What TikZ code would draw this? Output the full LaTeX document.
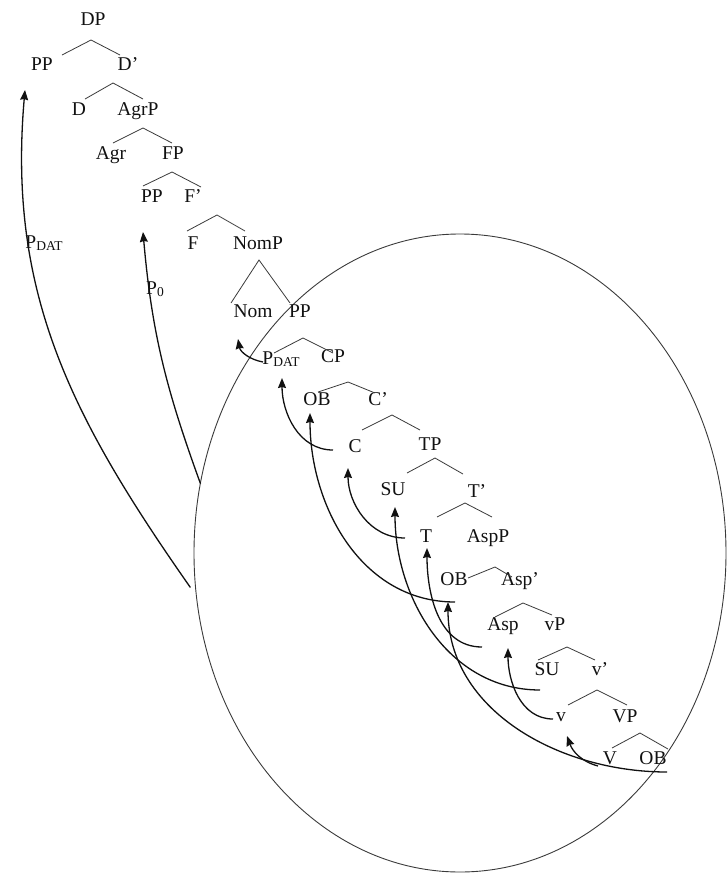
\documentclass[tikz,border=0pt]{standalone}
\usepackage{fontspec}
\setmainfont{Liberation Serif}
\usepackage{tikz}
\usetikzlibrary{arrows.meta,calc,shapes.geometric}
\definecolor{ink}  {HTML}{111111}
\definecolor{twig} {HTML}{3A3A3A}
\newcommand{\lowtag}[1]{\raisebox{-1.5pt}{\fontsize{13.5}{14}\selectfont #1}}
\tikzset{
  every node/.style={font=\fontsize{19.5}{22}\selectfont, inner sep=1pt},
  % --- nodes
  cat/.style  = {text=ink, text height=1.5ex, text depth=.25ex},
  ring/.style = {ellipse, draw=twig, line width=0.9pt, inner sep=0pt, outer sep=0pt,
                 minimum width=532pt, minimum height=638pt},
  % --- edges
  br/.style   = {draw=twig, line width=0.8pt},
  mv/.style   = {-{Stealth[length=10pt,width=8pt,inset=1pt]}, draw=ink, line width=1.3pt},
}

\begin{document}
\begin{tikzpicture}[x=1pt,y=-1pt]
  \useasboundingbox (0,0) rectangle (726,873);
  \node[ring] (zone) at (460,553) {};

  \node[cat] (dp)    at (93,23)   {DP};
  \node[cat] (pp1)   at (42,68)   {PP};
  \node[cat] (d1)    at (128,68)  {D'};
  \node[cat] (d)     at (79,113)  {D};
  \node[cat] (agrp)  at (138,113) {AgrP};
  \node[cat] (agr)   at (111,157) {Agr};
  \node[cat] (fp)    at (173,157) {FP};
  \node[cat] (pp2)   at (152,200) {PP};
  \node[cat] (f1)    at (193,200) {F'};
  \node[cat] (f)     at (193,247) {F};
  \node[cat] (nomp)  at (258,247) {NomP};
  \node[cat] (nom)   at (253,315) {Nom};
  \node[cat] (pp3)   at (300,315) {PP};
  \node[cat] (pdat)  at (281,362) {P\lowtag{DAT}};
  \node[cat] (cp)    at (333,360) {CP};
  \node[cat] (ob1)   at (317,403) {OB};
  \node[cat] (c1)    at (378,403) {C'};
  \node[cat] (c)     at (355,450) {C};
  \node[cat] (tp)    at (430,448) {TP};
  \node[cat] (su1)   at (393,493) {SU};
  \node[cat] (t1)    at (477,495) {T'};
  \node[cat] (t)     at (426,540) {T};
  \node[cat] (aspp)  at (488,540) {AspP};
  \node[cat] (ob2)   at (454,583) {OB};
  \node[cat] (asp1)  at (520,583) {Asp'};
  \node[cat] (asp)   at (503,628) {Asp};
  \node[cat] (vp)    at (555,628) {vP};
  \node[cat] (su2)   at (547,673) {SU};
  \node[cat] (v1)    at (600,673) {v'};
  \node[cat] (sv)    at (561,719) {v};
  \node[cat] (bigvp) at (625,720) {VP};
  \node[cat] (bigv)  at (610,762) {V};
  \node[cat] (ob3)   at (653,762) {OB};

  \node[cat] (pdl) at (44,246)  {P\lowtag{DAT}};
  \node[cat] (pzl) at (155,292) {P\lowtag{0}};

  \draw[br] ($(pp1)+(20,-13)$)  -- ($(dp)+(-2,17)$)    -- ($(d1)+(-8,-13)$);
  \draw[br] ($(d)+(6,-14)$)     -- ($(d1)+(-15,15)$)   -- ($(agrp)+(5,-14)$);
  \draw[br] ($(agr)+(2,-14)$)   -- ($(agrp)+(5,15)$)   -- ($(fp)+(-1,-14)$);
  \draw[br] ($(pp2)+(-9,-14)$)  -- ($(fp)+(-1,15)$)    -- ($(f1)+(8,-13)$);
  \draw[br] ($(f)+(-6,-16)$)    -- ($(f1)+(24,15)$)    -- ($(nomp)+(-13,-16)$);
  \draw[br] ($(nom)+(-22,-12)$) -- ($(nomp)+(1,13)$)   -- ($(pp3)+(-10,-12)$);
  \draw[br] ($(pdat)+(-7,-9)$)  -- ($(pp3)+(3,23)$)    -- ($(cp)+(0,-7)$);
  \draw[br] ($(ob1)+(1,-11)$)   -- ($(cp)+(15,22)$)    -- ($(c1)+(-3,-10)$);
  \draw[br] ($(c)+(7,-20)$)     -- ($(c1)+(14,12)$)    -- ($(tp)+(-10,-18)$);
  \draw[br] ($(su1)+(14,-20)$)  -- ($(tp)+(5,10)$)     -- ($(t1)+(-14,-21)$);
  \draw[br] ($(t)+(11,-23)$)    -- ($(t1)+(-12,8)$)    -- ($(aspp)+(4,-23)$);
  \draw[br] ($(ob2)+(14,-5)$)   -- ($(aspp)+(7,27)$)   -- ($(asp1)+(-8,-6)$);
  \draw[br] ($(asp)+(-8,-11)$)  -- ($(asp1)+(3,20)$)   -- ($(vp)+(-3,-13)$);
  \draw[br] ($(su2)+(-9,-13)$)  -- ($(vp)+(12,19)$)    -- ($(v1)+(-5,-13)$);
  \draw[br] ($(sv)+(7,-14)$)    -- ($(v1)+(-3,17)$)    -- ($(bigvp)+(2,-15)$);
  \draw[br] ($(bigv)+(2,-14)$)  -- ($(bigvp)+(15,13)$) -- ($(ob3)+(15,-13)$);

  \draw[mv] ($(bigv)+(-12,4)$)  to[out=165,in=-70] ($(sv)+(6,17)$);
  \draw[mv] ($(sv)+(-8,0)$)     to[out=180,in=-90] ($(asp)+(5,20)$);
  \draw[mv] ($(asp)+(-21,19)$)  to[out=180,in=-90] ($(t)+(1,8)$);
  \draw[mv] ($(t)+(-21,-2)$)    to[out=180,in=-90] ($(c)+(-7,18)$);
  \draw[mv] ($(c)+(-22,0)$)     to[out=180,in=-90] ($(pdat)+(1,16)$);
  \draw[mv] ($(pdat)+(-18,0)$)  to[out=170,in=-80] ($(nom)+(-15,24)$);
  \draw[mv] ($(ob3)+(14,10)$)   to[out=180,in=-90] ($(ob2)+(-6,19)$);
  \draw[mv] ($(ob2)+(1,19)$)    to[out=180,in=-90] ($(ob1)+(-7,10)$);
  \draw[mv] ($(su2)+(-7,17)$)   to[out=180,in=-90] ($(su1)+(2,14)$);
  \draw[mv] (zone.165)          to[out=110,in=-85] ($(pp2)+(-9,32)$);
  \draw[mv] ($(zone.187)+(-5,2)$) to[out=125,in=-95] ($(pp1)+(-17,22)$);
\end{tikzpicture}
\end{document}
